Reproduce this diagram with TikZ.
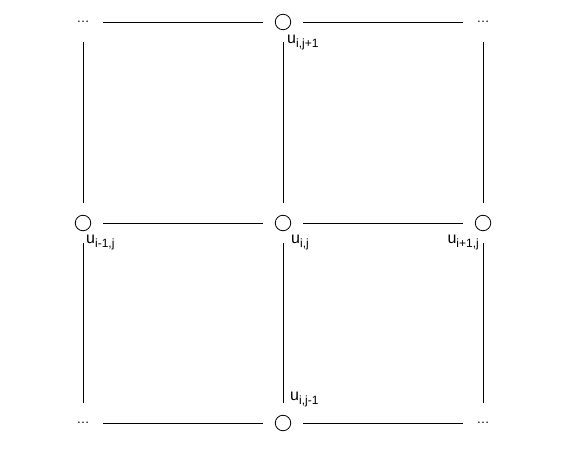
\documentclass[tikz,border=0pt]{standalone}
\usepackage{fontspec}
\setmainfont{Liberation Sans}
\usetikzlibrary{positioning}
\newcommand{\gridsub}[1]{\raisebox{-4pt}{\fontsize{12}{14}\selectfont #1}}
\tikzset{
  every node/.style={font=\fontsize{16}{18}\selectfont},
  gridpt/.style={circle, draw, line width=0.8pt, minimum size=15.5pt, inner sep=0pt},
  ellipsisnode/.style={circle, minimum size=15.5pt, inner sep=0pt, font=\fontsize{13}{15}\selectfont},
  vlabel/.style={inner sep=0pt, anchor=base west},
  edge/.style={line width=0.8pt, shorten <=12pt, shorten >=12pt},
}
\begin{document}
\begin{tikzpicture}[x=1pt,y=1pt]
\useasboundingbox (0,0) rectangle (577,452);
% grid points
\node[ellipsisnode] (tl) at (83,430) {\dots};
\node[gridpt] (tm) at (283,430) {};
\node[ellipsisnode] (tr) at (483,430) {\dots};
\node[gridpt] (ml) at (83,229) {};
\node[gridpt] (mm) at (283,229) {};
\node[gridpt] (mr) at (483,229) {};
\node[ellipsisnode] (bl) at (83,29) {\dots};
\node[gridpt] (bm) at (283,29) {};
\node[ellipsisnode] (br) at (483,29) {\dots};
% labels
\node[vlabel] (ltm) at (287,408) {u\gridsub{i,j+1}};
\node[vlabel] (lml) at (86,208) {u\gridsub{i-1,j}};
\node[vlabel] (lmm) at (291,208) {u\gridsub{i,j}};
\node[vlabel, anchor=base east] (lmr) at (479,208) {u\gridsub{i+1,j}};
\node[vlabel] (lbm) at (290,52) {u\gridsub{i,j-1}};
% edges
\draw[edge] (tl) -- (tm);
\draw[edge] (tm) -- (tr);
\draw[edge] (ml) -- (mm);
\draw[edge] (mm) -- (mr);
\draw[edge] (bl) -- (bm);
\draw[edge] (bm) -- (br);
\draw[edge] (tl) -- (ml);
\draw[edge] (ml) -- (bl);
\draw[edge] (tm) -- (mm);
\draw[edge] (mm) -- (bm);
\draw[edge] (tr) -- (mr);
\draw[edge] (mr) -- (br);
\end{tikzpicture}
\end{document}
